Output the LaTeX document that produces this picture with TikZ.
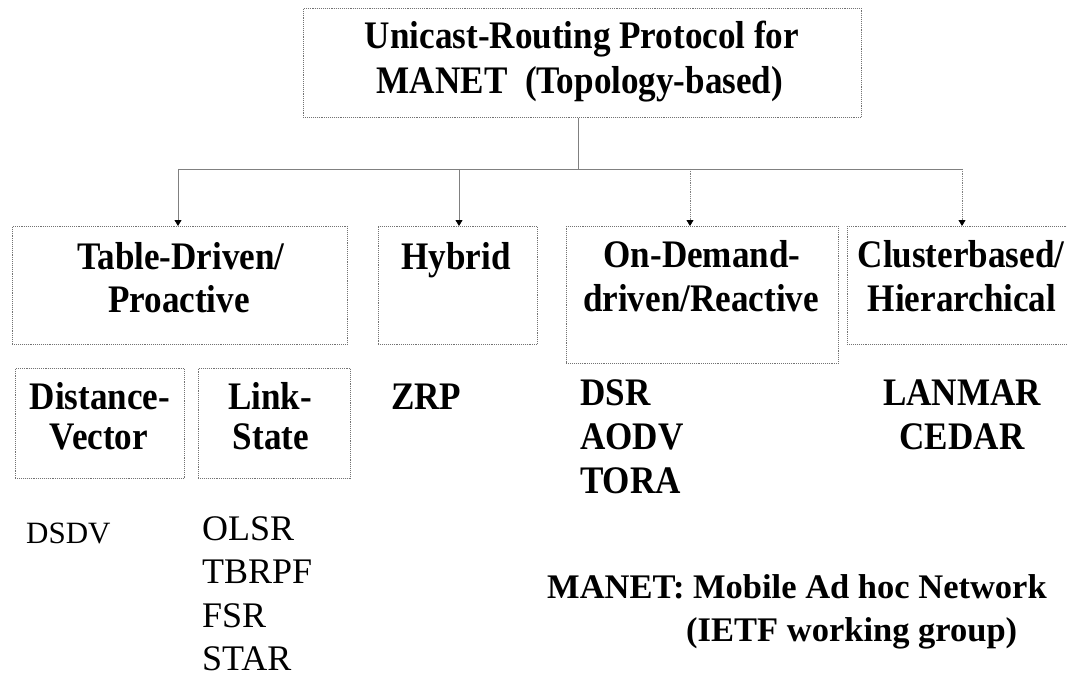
\documentclass[tikz,border=0pt]{standalone}
\usepackage{fontspec}
\setmainfont{Liberation Serif}
\newfontfamily\headfont[FakeStretch=0.9]{Liberation Serif}
\usetikzlibrary{arrows.meta}
\begin{document}
\begin{tikzpicture}[x=1pt,y=-1pt,
  box/.style={draw=black!55, densely dotted, line width=0.9pt, inner sep=0pt, anchor=north west},
  lbl/.style={font=\headfont\bfseries\fontsize{39}{43}\selectfont, inner sep=0pt, anchor=base},
  lbll/.style={lbl, anchor=base west},
  item/.style={font=\fontsize{36}{40}\selectfont, inner sep=0pt, anchor=base west},
  small/.style={font=\fontsize{31}{35}\selectfont, inner sep=0pt, anchor=base west},
  note/.style={font=\bfseries\fontsize{34.5}{38}\selectfont, inner sep=0pt, anchor=base west},
  wire/.style={draw=black!50, line width=0.8pt},
  dwire/.style={draw=black!50, line width=0.8pt, densely dotted},
  tip/.style={-{Triangle[width=7pt,length=6pt,color=black]}}
]
\useasboundingbox (0,0) rectangle (1067,679);
\clip (0,0) rectangle (1067,679);
\fill[white] (0,0) rectangle (1067,679);

% top-level box
\node[box, minimum width=558pt, minimum height=109pt] (root) at (303,8) {};
\node[lbl] (rootA) at (582,49) {Unicast-Routing Protocol for};
\node[lbl] (rootB) at (580,94) {MANET\ \ (Topology-based)};

% protocol families
\node[box, minimum width=335pt, minimum height=118pt] (tab) at (12,226) {};
\node[box, minimum width=159pt, minimum height=118pt] (hyb) at (378,226) {};
\node[box, minimum width=272pt, minimum height=137pt] (ond) at (566,226) {};
\node[box, minimum width=230pt, minimum height=118pt] (clu) at (847,226) {};

\node[lbl] (tabA) at (181,269) {Table-Driven/};
\node[lbl] (tabB) at (179,312) {Proactive};
\node[lbl] (hybA) at (456,269) {Hybrid};
\node[lbl] (ondA) at (702,267) {On-Demand-};
\node[lbl] (ondB) at (701,311) {driven/Reactive};
\node[lbl] (cluA) at (961,267) {Clusterbased/};
\node[lbl] (cluB) at (962,311) {Hierarchical};

% proactive sub-classes
\node[box, minimum width=169pt, minimum height=110pt] (dv) at (15,368) {};
\node[box, minimum width=152pt, minimum height=110pt] (ls) at (198,368) {};
\node[lbl] (dvA) at (100,409) {Distance-};
\node[lbl] (dvB) at (99,449) {Vector};
\node[lbl] (lsA) at (270,409) {Link-};
\node[lbl] (lsB) at (271,449) {State};

% protocol names
\node[lbll] (zrp) at (391,409) {ZRP};
\node[lbll] (dsr) at (580,405) {DSR};
\node[lbll] (aodv) at (580,449) {AODV};
\node[lbll] (tora) at (580,493) {TORA};
\node[lbl] (lanmar) at (962,405) {LANMAR};
\node[lbl] (cedar) at (962,449) {CEDAR};
\node[small] (dsdv) at (26,543) {DSDV};
\node[item] (olsr) at (202,540) {OLSR};
\node[item] (tbrpf) at (202,583.5) {TBRPF};
\node[item] (fsr) at (202,627) {FSR};
\node[item] (star) at (202,670.5) {STAR};

% footnote
\node[note] (manetA) at (547,598) {MANET: Mobile Ad hoc Network};
\node[note] (manetB) at (686,641) {(IETF working group)};

% connectors
\coordinate (dT) at (178,169);
\coordinate (dH) at (459,169);
\coordinate (dO) at (690,169);
\coordinate (dC) at (962,169);
\draw[wire] ([xshift=-4pt]root.south) -- ([xshift=-4pt]root.south |- dT);
\draw[wire] (dT) -- (dC);
\draw[wire,tip] (dT) -- (dT |- tab.north);
\draw[wire,tip] (dH) -- (dH |- hyb.north);
\draw[dwire,tip] (dO) -- (dO |- ond.north);
\draw[dwire,tip] (dC) -- (dC |- clu.north);
\end{tikzpicture}
\end{document}
